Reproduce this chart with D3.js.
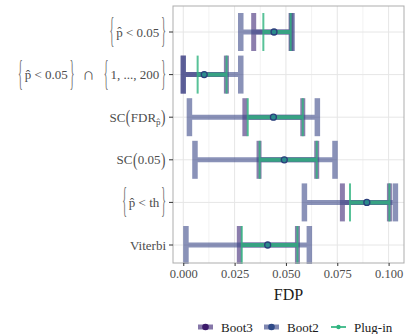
<!DOCTYPE html>
<html>
<head>
<meta charset="utf-8">
<script src="https://cdn.jsdelivr.net/npm/d3@7"></script>
<style>
  body { margin: 0; background: #fff; }
  svg { display: block; }
</style>
</head>
<body>
<div id="chart"></div>
<script>
// categories, top to bottom
var categories = ['{p\u0302 < 0.05}', '{p\u0302 < 0.05} \u2229 {1, ..., 200}', 'SC(FDR_p\u0302)', 'SC(0.05)', '{p\u0302 < th}', 'Viterbi'];
var estimate = [0.0442, 0.0102, 0.0439, 0.0492, 0.0894, 0.0411];
var boot2Lo = [0.0280, 0.0000, 0.0030, 0.0057, 0.0590, 0.0013];
var boot2Hi = [0.0530, 0.0280, 0.0653, 0.0739, 0.1033, 0.0614];
var boot3Lo = [0.0343, 0.0000, 0.0300, 0.0369, 0.0775, 0.0273];
var boot3Hi = [0.0525, 0.0210, 0.0582, 0.0650, 0.1004, 0.0556];
var plugLo = [0.0390, 0.0070, 0.0314, 0.0372, 0.0812, 0.0285];
var plugHi = [0.0523, 0.0211, 0.0582, 0.0650, 0.1004, 0.0556];
var seriesNames = ['Boot3', 'Boot2', 'Plug-in'];
var xTicks = [0, 0.025, 0.05, 0.075, 0.1];
var xMinor = [0.0125, 0.0375, 0.0625, 0.0875];

var W = 408, H = 334;
var serif = '"Liberation Serif", "DejaVu Serif", serif';

var svg = d3.select('#chart').append('svg')
    .attr('width', W)
    .attr('height', H);

var x = d3.scaleLinear().domain([-0.005, 0.1075]).range([173, 404]);
var y = d3.scalePoint().domain(categories).range([32, 245]);
var panel = {top: 6, bottom: 263};

// grid
svg.append('g').selectAll('line.minor').data(xMinor).enter().append('line')
    .attr('x1', x).attr('x2', x)
    .attr('y1', panel.top).attr('y2', panel.bottom)
    .style('stroke', '#f2f2f2').style('stroke-width', 1);
svg.append('g').selectAll('line.major').data(xTicks).enter().append('line')
    .attr('x1', x).attr('x2', x)
    .attr('y1', panel.top).attr('y2', panel.bottom)
    .style('stroke', '#e6e6e6').style('stroke-width', 1);
svg.append('g').selectAll('line.hmajor').data(categories).enter().append('line')
    .attr('x1', x.range()[0]).attr('x2', x.range()[1])
    .attr('y1', y).attr('y2', y)
    .style('stroke', '#e6e6e6').style('stroke-width', 1);

// series
var series = [
  {name: 'Boot3', lo: boot3Lo, hi: boot3Hi, color: '#46307c', op: 0.62, w: 5, r: 3},
  {name: 'Boot2', lo: boot2Lo, hi: boot2Hi, color: '#3d4a8a', op: 0.6, w: 5.5, r: 3},
  {name: 'Plug-in', lo: plugLo, hi: plugHi, color: '#2fb47f', op: 0.8, w: 2, r: 2}
];
var capH = 19;

series.forEach(function(s) {
  var g = svg.append('g').style('opacity', s.op);
  var rows = categories.map(function(c, i) { return {c: c, lo: s.lo[i], hi: s.hi[i]}; });
  // horizontal bar
  g.selectAll('line.h').data(rows).enter().append('line')
      .attr('x1', function(d) { return x(d.lo); })
      .attr('x2', function(d) { return x(d.hi); })
      .attr('y1', function(d) { return y(d.c); })
      .attr('y2', function(d) { return y(d.c); })
      .style('stroke', s.color).style('stroke-width', s.name == 'Plug-in' ? 4 : 5);
  // caps
  ['lo', 'hi'].forEach(function(k) {
    g.selectAll('line.' + k).data(rows).enter().append('line')
        .attr('x1', function(d) { return x(d[k]); })
        .attr('x2', function(d) { return x(d[k]); })
        .attr('y1', function(d) { return y(d.c) - capH; })
        .attr('y2', function(d) { return y(d.c) + capH; })
        .style('stroke', s.color).style('stroke-width', s.w);
  });
});

// point estimates
svg.append('g').selectAll('circle').data(categories).enter().append('circle')
    .attr('cx', function(d, i) { return x(estimate[i]); })
    .attr('cy', y)
    .attr('r', 3)
    .style('fill', '#2a8a8c')
    .style('stroke', '#2b3f7c')
    .style('stroke-width', 1.3);

// panel border
svg.append('rect')
    .attr('x', x.range()[0]).attr('y', panel.top)
    .attr('width', x.range()[1] - x.range()[0])
    .attr('height', panel.bottom - panel.top)
    .style('fill', 'none').style('stroke', '#adadad').style('stroke-width', 1);

// x axis
var xAxis = svg.append('g')
    .attr('transform', 'translate(0,' + panel.bottom + ')')
    .call(d3.axisBottom(x).tickValues(xTicks).tickFormat(d3.format('.3f')).tickSize(3).tickPadding(3));
xAxis.select('.domain').remove();
xAxis.selectAll('line').style('stroke', '#333');
xAxis.selectAll('text')
    .style('font-family', serif).style('font-size', '12.5px').style('fill', '#4d4d4d');

svg.append('text')
    .attr('x', (x.range()[0] + x.range()[1]) / 2)
    .attr('y', 300)
    .attr('text-anchor', 'middle')
    .style('font-family', serif).style('font-size', '16px').style('fill', '#1a1a1a')
    .text('FDP');

// y ticks
svg.append('g').selectAll('line').data(categories).enter().append('line')
    .attr('x1', 169).attr('x2', 173)
    .attr('y1', y).attr('y2', y)
    .style('stroke', '#333');

// y labels: split delimiters and subscripts so they can be sized like the math labels
function tokens(str) {
  var out = [], buf = '', i = 0;
  while (i < str.length) {
    var ch = str[i];
    if ('{}()'.indexOf(ch) >= 0) {
      if (buf) { out.push({t: buf, kind: 'txt'}); buf = ''; }
      out.push({t: ch, kind: ch == '{' || ch == '}' ? 'brace' : 'paren'});
      i++;
    } else if (ch == '_') {
      if (buf) { out.push({t: buf, kind: 'txt'}); buf = ''; }
      var j = i + 1;
      while (j < str.length && '{}()'.indexOf(str[j]) < 0) j++;
      out.push({t: str.slice(i + 1, j), kind: 'sub'});
      i = j;
    } else {
      buf += ch;
      i++;
    }
  }
  if (buf) out.push({t: buf, kind: 'txt'});
  return out;
}

var labelRight = 166;
categories.forEach(function(c) {
  var g = svg.append('g');
  var cx = 0;
  tokens(c).forEach(function(tk) {
    var size = 13, sx = 1, dy = 4.5, padL = 0, padR = 0, txt = tk.t, fill = '#4d4d4d';
    if (tk.kind == 'brace') {
      size = 35; sx = 0.28; dy = 10; fill = '#6e6e6e';
      if (tk.t == '{') padR = 2; else padL = 2;
    }
    if (tk.kind == 'paren') { size = 19; sx = 0.7; dy = 6; padL = 0.5; padR = 0.5; }
    if (tk.kind == 'sub') { size = 9; dy = 8; }
    if (tk.kind == 'txt' && txt.indexOf('\u2229') >= 0) {
      txt = '\u2229'; size = 17; dy = 5; padL = 8; padR = 9;
    }
    var holder = g.append('g').attr('transform', 'translate(' + (cx + padL) + ',' + (y(c) + dy) + ') scale(' + sx + ',1)');
    var t = holder.append('text')
        .attr('x', 0).attr('y', 0)
        .style('font-family', serif).style('font-size', size + 'px').style('fill', fill)
        .style('white-space', 'pre')
        .attr('xml:space', 'preserve')
        .text(txt);
    cx += padL + t.node().getComputedTextLength() * sx + padR;
  });
  g.attr('transform', 'translate(' + (labelRight - cx) + ',0)');
});

// legend
var legendY = 327;
var legendItems = [
  {name: seriesNames[0], x: 198, color: '#46307c', pt: '#3b1a6a', thick: true},
  {name: seriesNames[1], x: 264, color: '#3d4a8a', pt: '#2f4a88', thick: true},
  {name: seriesNames[2], x: 331, color: '#2fb47f', pt: '#2fb47f', thick: false}
];
var lg = svg.append('g').selectAll('g').data(legendItems).enter().append('g')
    .attr('transform', function(d) { return 'translate(' + d.x + ',' + legendY + ')'; });
lg.append('line')
    .attr('x1', 0).attr('x2', 15)
    .style('stroke', function(d) { return d.color; })
    .style('stroke-width', function(d) { return d.thick ? 5 : 2; })
    .style('opacity', function(d) { return d.thick ? 0.65 : 0.85; });
lg.append('circle')
    .attr('cx', 7.5)
    .attr('r', function(d) { return d.thick ? 3.3 : 2.2; })
    .style('fill', function(d) { return d.pt; });
lg.append('text')
    .attr('x', 23).attr('y', 4.5)
    .style('font-family', serif).style('font-size', '13px').style('fill', '#1a1a1a')
    .text(function(d) { return d.name; });
</script>
</body>
</html>
